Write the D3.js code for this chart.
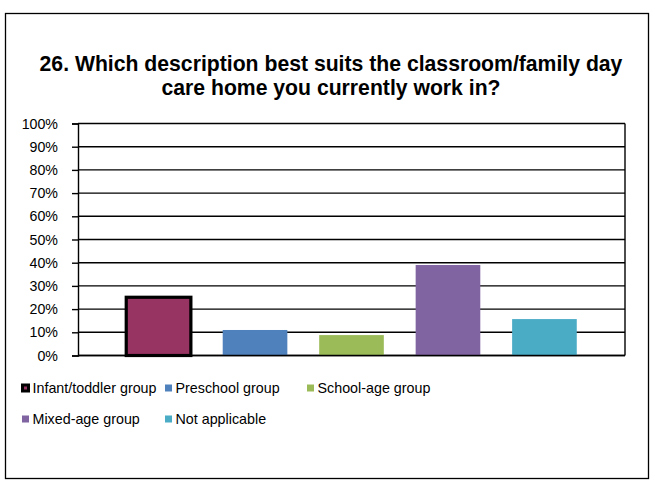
<!DOCTYPE html>
<html>
<head>
<meta charset="utf-8">
<script src="https://cdn.jsdelivr.net/npm/d3@7"></script>
<style>
  html, body { margin: 0; padding: 0; background: #fff; }
  svg { display: block; }
  text { font-family: "Liberation Sans", Arial, sans-serif; fill: #000; }
</style>
</head>
<body>
<svg id="chart" width="655" height="484"></svg>
<script>
// Survey question 26: share of respondents by classroom / day care home type
const titleLines = [
  "26. Which description best suits the classroom/family day",
  "care home you currently work in?"
];
const seriesNames = ["Infant/toddler group", "Preschool group", "School-age group", "Mixed-age group", "Not applicable"];
const seriesValues = [25.1, 11.0, 8.8, 39.0, 15.7];
const seriesColors = ["#983462", "#4F81BD", "#9BBB59", "#8064A2", "#4BACC6"];
const yTicks = [0, 10, 20, 30, 40, 50, 60, 70, 80, 90, 100];

const svg = d3.select("#chart");
const W = 655, H = 484;

// outer chart frame
svg.append("rect")
  .attr("x", 5.5).attr("y", 13.5)
  .attr("width", 643).attr("height", 465)
  .attr("fill", "#fff").attr("stroke", "#000").attr("stroke-width", 1.3);

// title
const title = svg.append("text")
  .attr("text-anchor", "middle")
  .attr("font-size", 21.2)
  .attr("font-weight", "bold");
titleLines.forEach((t, i) => {
  title.append("tspan").attr("x", 331).attr("y", 71 + i * 24).text(t);
});

// plot area
const plot = { left: 78, right: 625, top: 123.5, bottom: 355.5 };

const x = d3.scaleBand()
  .domain(seriesNames)
  .range([plot.left, plot.right])
  .paddingInner(0.33)
  .paddingOuter(0.5);

const y = d3.scaleLinear()
  .domain([0, 100])
  .range([plot.bottom, plot.top]);

// horizontal gridlines
svg.append("g")
  .selectAll("line")
  .data(yTicks)
  .join("line")
  .attr("x1", plot.left).attr("x2", plot.right)
  .attr("y1", d => y(d)).attr("y2", d => y(d))
  .attr("stroke", "#000").attr("stroke-width", 1.4);

// right border of the plot area
svg.append("line")
  .attr("x1", plot.right).attr("x2", plot.right)
  .attr("y1", plot.top).attr("y2", plot.bottom)
  .attr("stroke", "#000").attr("stroke-width", 1.4);

// bars
svg.append("g")
  .selectAll("rect")
  .data(seriesNames)
  .join("rect")
  .attr("x", d => x(d))
  .attr("width", x.bandwidth())
  .attr("y", (d, i) => y(seriesValues[i]))
  .attr("height", (d, i) => y(0) - y(seriesValues[i]))
  .attr("fill", (d, i) => seriesColors[i])
  .attr("stroke", (d, i) => i === 0 ? "#000" : "none")
  .attr("stroke-width", 3.2);

// y axis
const yAxis = d3.axisLeft(y)
  .tickValues(yTicks)
  .tickFormat(d => d + "%")
  .tickSize(6)
  .tickPadding(14);

const ag = svg.append("g")
  .attr("transform", `translate(${plot.left},0)`)
  .call(yAxis);
ag.select(".domain").attr("stroke", "#000").attr("stroke-width", 1.4);
ag.selectAll(".tick line").attr("stroke", "#000").attr("stroke-width", 1.4);
ag.selectAll(".tick text")
  .attr("font-family", "'Liberation Sans', Arial, sans-serif")
  .attr("font-size", 14.2)
  .attr("fill", "#000");

// x axis baseline
svg.append("line")
  .attr("x1", plot.left).attr("x2", plot.right)
  .attr("y1", y(0)).attr("y2", y(0))
  .attr("stroke", "#000").attr("stroke-width", 1.4);

// legend, three columns per row
const legendCols = [21, 164, 306];
const legendRows = [388, 419];
const legend = svg.append("g");
seriesNames.forEach((name, i) => {
  const cx = legendCols[i % 3];
  const cy = legendRows[Math.floor(i / 3)];
  const g = legend.append("g");
  if (i === 0) {
    g.append("rect")
      .attr("x", cx + 1.5).attr("y", cy - 3)
      .attr("width", 6).attr("height", 6)
      .attr("fill", seriesColors[i])
      .attr("stroke", "#000").attr("stroke-width", 3);
  } else {
    g.append("rect")
      .attr("x", cx + 1).attr("y", cy - 3.5)
      .attr("width", 7).attr("height", 7)
      .attr("fill", seriesColors[i]);
  }
  g.append("text")
    .attr("x", cx + 11.5).attr("y", cy + 5)
    .attr("font-size", 14.3)
    .text(name);
});
</script>
</body>
</html>
